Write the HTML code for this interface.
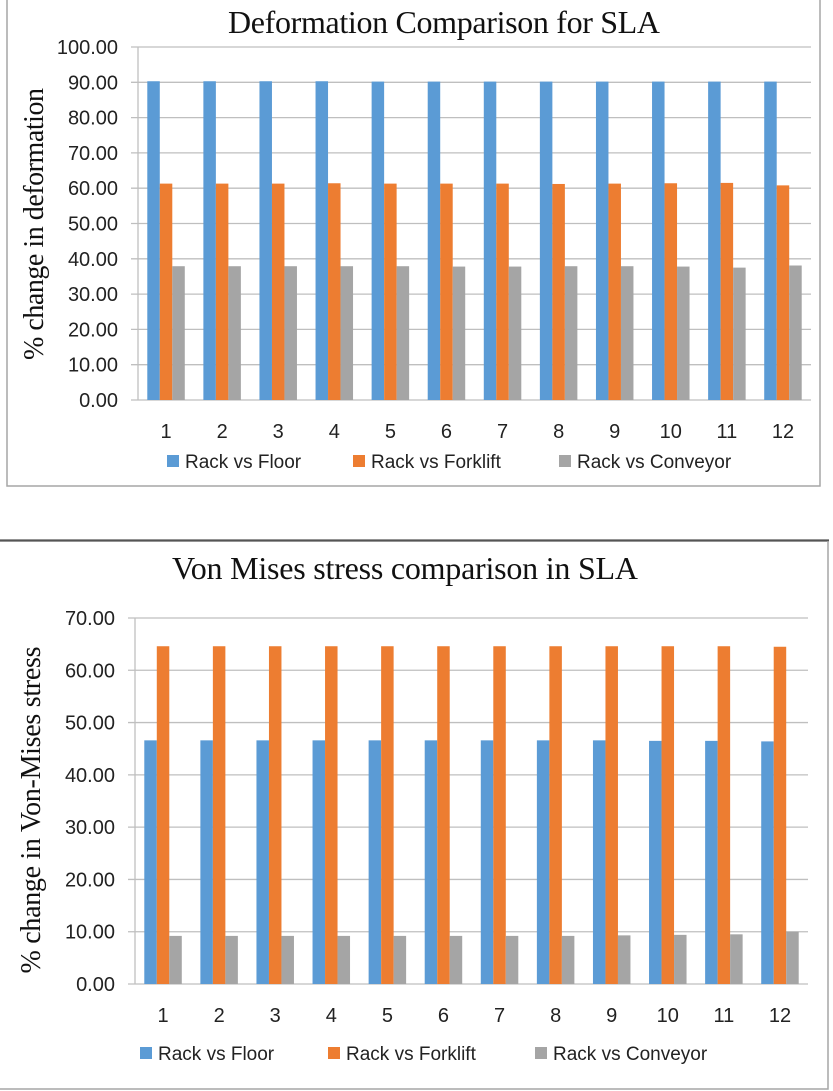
<!DOCTYPE html>
<html><head><meta charset="utf-8"><style>
html,body{margin:0;padding:0;background:#fff;}
svg{display:block;}
.tk{font-family:"Liberation Sans",sans-serif;font-size:20px;fill:#222;}
.lg{font-family:"Liberation Sans",sans-serif;font-size:19px;fill:#222;}
.ttl{font-family:"Liberation Serif",serif;fill:#111;}
</style></head><body>
<svg id="svg" width="833" height="1091" viewBox="0 0 833 1091" xmlns="http://www.w3.org/2000/svg">
<rect x="0" y="0" width="833" height="1091" fill="#fff"/>
<g id="c1">
<path d="M7 0 V486 H820 V0" fill="none" stroke="#a6a6a6" stroke-width="1.5"/>
<text class="ttl" x="444" y="33" font-size="32" text-anchor="middle" textLength="432">Deformation Comparison for SLA</text>
<text class="ttl" font-size="28" text-anchor="middle" textLength="272" transform="translate(43,224) rotate(-90)">% change in deformation</text>
</g>
<g id="c2">
<line x1="0" y1="540.5" x2="829" y2="540.5" stroke="#555" stroke-width="2.2"/>
<path d="M828 541 V1089 H0" fill="none" stroke="#a6a6a6" stroke-width="1.5"/>
<text class="ttl" x="405" y="579" font-size="32" text-anchor="middle" textLength="466">Von Mises stress comparison in SLA</text>
<text class="ttl" font-size="28" text-anchor="middle" textLength="327" transform="translate(40,810) rotate(-90)">% change in Von-Mises stress</text>
</g>
</svg>
<script>
const categories = ["1","2","3","4","5","6","7","8","9","10","11","12"];
const seriesNames = ["Rack vs Floor","Rack vs Forklift","Rack vs Conveyor"];
const colors = ["#5b9bd5","#ed7d31","#a5a5a5"];
const defFloor = [90.3,90.3,90.3,90.3,90.2,90.2,90.2,90.2,90.2,90.2,90.2,90.2];
const defForklift = [61.3,61.3,61.3,61.4,61.3,61.3,61.3,61.2,61.3,61.4,61.5,60.8];
const defConveyor = [37.9,37.9,37.9,37.9,37.9,37.8,37.8,37.9,37.9,37.8,37.5,38.1];
const defTicks = ["0.00","10.00","20.00","30.00","40.00","50.00","60.00","70.00","80.00","90.00","100.00"];
const strFloor = [46.6,46.6,46.6,46.6,46.6,46.6,46.6,46.6,46.6,46.5,46.5,46.4];
const strForklift = [64.6,64.6,64.6,64.6,64.6,64.6,64.6,64.6,64.6,64.6,64.6,64.5];
const strConveyor = [9.2,9.2,9.2,9.2,9.2,9.2,9.2,9.2,9.3,9.4,9.5,10.0];
const strTicks = ["0.00","10.00","20.00","30.00","40.00","50.00","60.00","70.00"];

const NS="http://www.w3.org/2000/svg";
function mk(parent,tag,attrs,text){const e=document.createElementNS(NS,tag);for(const k in attrs)e.setAttribute(k,attrs[k]);if(text!==undefined)e.textContent=text;parent.appendChild(e);return e;}

function drawChart(g,cfg){
  const {x0,x1,yTop,yBot,maxV,ticks,series,labelY,legendY,legendX,prefix}=cfg;
  const yS=v=>yBot-(v/maxV)*(yBot-yTop);
  const band=(x1-x0)/categories.length;
  const xS=i=>x0+band*(i+0.5);
  const barW=12.5;
  ticks.forEach((t,i)=>{
    const v=parseFloat(t), y=yS(v);
    const gl=mk(g,'line',{x1:x0-7,y1:y,x2:x1,y2:y,stroke:'#bfbfbf','stroke-width':1.3});
    
    
    const tl=mk(g,'text',{x:x0-20,y:y+7,'text-anchor':'end',class:'tk'},t);
    
    
  });
  const ax=mk(g,'line',{x1:x0,y1:yTop,x2:x0,y2:yBot,stroke:'#bfbfbf','stroke-width':1.3});
  
  
  categories.forEach((c,i)=>{
    const cx=xS(i);
    series.forEach((s,j)=>{
      const v=s[i];
      const r=mk(g,'rect',{x:cx-1.5*barW+j*barW,y:yS(v),width:barW,height:yBot-yS(v),fill:colors[j]});
      
      
    });
    const xl=mk(g,'text',{x:cx,y:labelY,'text-anchor':'middle',class:'tk'},c);
    
    
  });
  seriesNames.forEach((n,j)=>{
    const lg=mk(g,'g',{});
    
    
    mk(lg,'rect',{x:legendX[j],y:legendY-6,width:12,height:12,fill:colors[j]});
    mk(lg,'text',{x:legendX[j]+18,y:legendY+7,class:'lg'},n);
  });
}
drawChart(document.getElementById('c1'),{x0:138,x1:811,yTop:47,yBot:400,maxV:100,ticks:defTicks,
  series:[defFloor,defForklift,defConveyor],labelY:438,legendY:461,legendX:[167,353,559],prefix:'deformation'});
drawChart(document.getElementById('c2'),{x0:135,x1:808,yTop:618,yBot:984,maxV:70,ticks:strTicks,
  series:[strFloor,strForklift,strConveyor],labelY:1022,legendY:1053,legendX:[140,328,535],prefix:'stress'});
</script>
</body></html>
